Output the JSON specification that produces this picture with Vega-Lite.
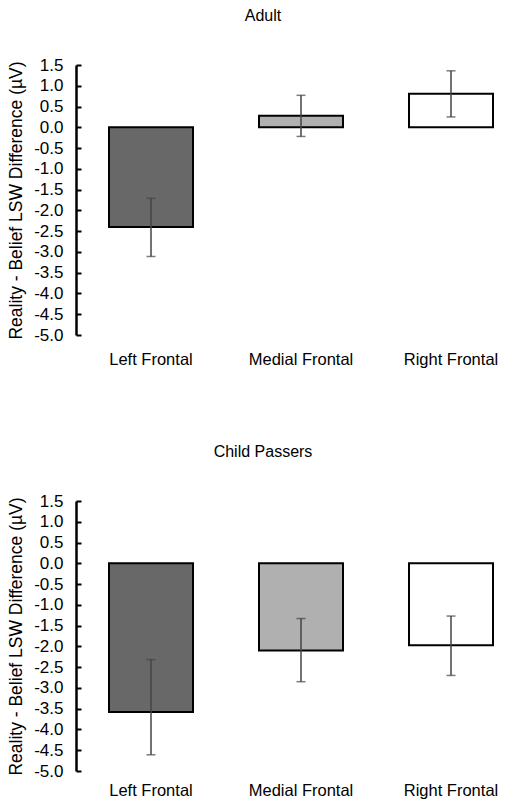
{
  "$schema": "https://vega.github.io/schema/vega-lite/v6.json",
  "padding": {"top": 8, "left": 0, "right": 0, "bottom": 0},
  "background": "white",
  "config": {
    "font": "Liberation Sans",
    "view": {"stroke": null},
    "title": {"fontSize": 16, "fontWeight": "normal", "color": "black", "frame": "bounds", "offset": 32},
    "axisY": {
      "labelOverlap": false,
      "grid": false, "domainColor": "black", "domainWidth": 2.5,
      "tickColor": "black", "tickWidth": 2, "tickSize": -5,
      "labelFontSize": 17, "labelColor": "black", "labelPadding": 18,
      "titleFontSize": 17.5, "titleFontWeight": "normal", "titleColor": "black",
      "titleX": -55, "titleBaseline": "alphabetic",
      "minExtent": 76, "maxExtent": 76, "labelFlush": false
    }
  },
  "data": {
    "values": [
      {"panel": "Adult", "region": "Left Frontal", "mean": -2.40, "lower": -3.11, "upper": -1.71},
      {"panel": "Adult", "region": "Medial Frontal", "mean": 0.28, "lower": -0.22, "upper": 0.77},
      {"panel": "Adult", "region": "Right Frontal", "mean": 0.81, "lower": 0.25, "upper": 1.36},
      {"panel": "Child Passers", "region": "Left Frontal", "mean": -3.58, "lower": -4.61, "upper": -2.32},
      {"panel": "Child Passers", "region": "Medial Frontal", "mean": -2.10, "lower": -2.85, "upper": -1.33},
      {"panel": "Child Passers", "region": "Right Frontal", "mean": -1.97, "lower": -2.70, "upper": -1.27}
    ]
  },
  "bounds": "flush",
  "spacing": 166,
  "vconcat": [
    {
      "title": {"text": "Adult", "frame": "bounds"},
      "width": 450,
      "height": 270,
      "transform": [{"filter": "datum.panel === 'Adult'"}],
      "encoding": {
        "x": {
          "field": "region", "type": "nominal", "title": null,
          "sort": ["Left Frontal", "Medial Frontal", "Right Frontal"],
          "scale": {"paddingInner": 0.44, "paddingOuter": 0.22},
          "axis": {"domain": false, "ticks": false, "labelAngle": 0, "labelFontSize": 16.5, "labelColor": "black", "labelPadding": 16}
        }
      },
      "layer": [
        {
          "mark": {"type": "bar", "stroke": "black", "strokeWidth": 2},
          "encoding": {
            "y": {
              "field": "mean", "type": "quantitative",
              "title": "Reality - Belief LSW Difference (µV)",
              "scale": {"domain": [-5, 1.5], "nice": false, "zero": false},
              "axis": {"values": [-5, -4.5, -4, -3.5, -3, -2.5, -2, -1.5, -1, -0.5, 0, 0.5, 1, 1.5], "labelExpr": "replace(format(datum.value, '.1f'), '\u2212', '-')"}
            },
            "fill": {
              "field": "region", "type": "nominal", "legend": null,
              "scale": {"domain": ["Left Frontal", "Medial Frontal", "Right Frontal"], "range": ["#686868", "#b0b0b0", "#ffffff"]}
            }
          }
        },
        {
          "mark": {"type": "rule", "color": "black", "strokeWidth": 2.5},
          "encoding": {"y": {"datum": 0, "type": "quantitative",
              "title": "Reality - Belief LSW Difference (µV)",
              "axis": {"values": [-5, -4.5, -4, -3.5, -3, -2.5, -2, -1.5, -1, -0.5, 0, 0.5, 1, 1.5], "labelExpr": "replace(format(datum.value, '.1f'), '\u2212', '-')"}}}
        },
        {
          "mark": {"type": "rule", "color": "#444444", "strokeWidth": 1.5},
          "encoding": {"y": {"field": "lower", "type": "quantitative",
              "title": "Reality - Belief LSW Difference (µV)",
              "axis": {"values": [-5, -4.5, -4, -3.5, -3, -2.5, -2, -1.5, -1, -0.5, 0, 0.5, 1, 1.5], "labelExpr": "replace(format(datum.value, '.1f'), '\u2212', '-')"}}, "y2": {"field": "upper"}}
        },
        {
          "mark": {"type": "tick", "color": "#444444", "thickness": 1.5, "size": 9},
          "encoding": {"y": {"field": "lower", "type": "quantitative",
              "title": "Reality - Belief LSW Difference (µV)",
              "axis": {"values": [-5, -4.5, -4, -3.5, -3, -2.5, -2, -1.5, -1, -0.5, 0, 0.5, 1, 1.5], "labelExpr": "replace(format(datum.value, '.1f'), '\u2212', '-')"}}}
        },
        {
          "mark": {"type": "tick", "color": "#444444", "thickness": 1.5, "size": 9},
          "encoding": {"y": {"field": "upper", "type": "quantitative",
              "title": "Reality - Belief LSW Difference (µV)",
              "axis": {"values": [-5, -4.5, -4, -3.5, -3, -2.5, -2, -1.5, -1, -0.5, 0, 0.5, 1, 1.5], "labelExpr": "replace(format(datum.value, '.1f'), '\u2212', '-')"}}}
        }
      ]
    },
    {
      "title": {"text": "Child Passers", "frame": "bounds"},
      "width": 450,
      "height": 270,
      "transform": [{"filter": "datum.panel === 'Child Passers'"}],
      "encoding": {
        "x": {
          "field": "region", "type": "nominal", "title": null,
          "sort": ["Left Frontal", "Medial Frontal", "Right Frontal"],
          "scale": {"paddingInner": 0.44, "paddingOuter": 0.22},
          "axis": {"domain": false, "ticks": false, "labelAngle": 0, "labelFontSize": 16.5, "labelColor": "black", "labelPadding": 11}
        }
      },
      "layer": [
        {
          "mark": {"type": "bar", "stroke": "black", "strokeWidth": 2},
          "encoding": {
            "y": {
              "field": "mean", "type": "quantitative",
              "title": "Reality - Belief LSW Difference (µV)",
              "scale": {"domain": [-5, 1.5], "nice": false, "zero": false},
              "axis": {"values": [-5, -4.5, -4, -3.5, -3, -2.5, -2, -1.5, -1, -0.5, 0, 0.5, 1, 1.5], "labelExpr": "replace(format(datum.value, '.1f'), '\u2212', '-')"}
            },
            "fill": {
              "field": "region", "type": "nominal", "legend": null,
              "scale": {"domain": ["Left Frontal", "Medial Frontal", "Right Frontal"], "range": ["#686868", "#b0b0b0", "#ffffff"]}
            }
          }
        },
        {
          "mark": {"type": "rule", "color": "black", "strokeWidth": 2.5},
          "encoding": {"y": {"datum": 0, "type": "quantitative",
              "title": "Reality - Belief LSW Difference (µV)",
              "axis": {"values": [-5, -4.5, -4, -3.5, -3, -2.5, -2, -1.5, -1, -0.5, 0, 0.5, 1, 1.5], "labelExpr": "replace(format(datum.value, '.1f'), '\u2212', '-')"}}}
        },
        {
          "mark": {"type": "rule", "color": "#444444", "strokeWidth": 1.5},
          "encoding": {"y": {"field": "lower", "type": "quantitative",
              "title": "Reality - Belief LSW Difference (µV)",
              "axis": {"values": [-5, -4.5, -4, -3.5, -3, -2.5, -2, -1.5, -1, -0.5, 0, 0.5, 1, 1.5], "labelExpr": "replace(format(datum.value, '.1f'), '\u2212', '-')"}}, "y2": {"field": "upper"}}
        },
        {
          "mark": {"type": "tick", "color": "#444444", "thickness": 1.5, "size": 9},
          "encoding": {"y": {"field": "lower", "type": "quantitative",
              "title": "Reality - Belief LSW Difference (µV)",
              "axis": {"values": [-5, -4.5, -4, -3.5, -3, -2.5, -2, -1.5, -1, -0.5, 0, 0.5, 1, 1.5], "labelExpr": "replace(format(datum.value, '.1f'), '\u2212', '-')"}}}
        },
        {
          "mark": {"type": "tick", "color": "#444444", "thickness": 1.5, "size": 9},
          "encoding": {"y": {"field": "upper", "type": "quantitative",
              "title": "Reality - Belief LSW Difference (µV)",
              "axis": {"values": [-5, -4.5, -4, -3.5, -3, -2.5, -2, -1.5, -1, -0.5, 0, 0.5, 1, 1.5], "labelExpr": "replace(format(datum.value, '.1f'), '\u2212', '-')"}}}
        }
      ]
    }
  ]
}
